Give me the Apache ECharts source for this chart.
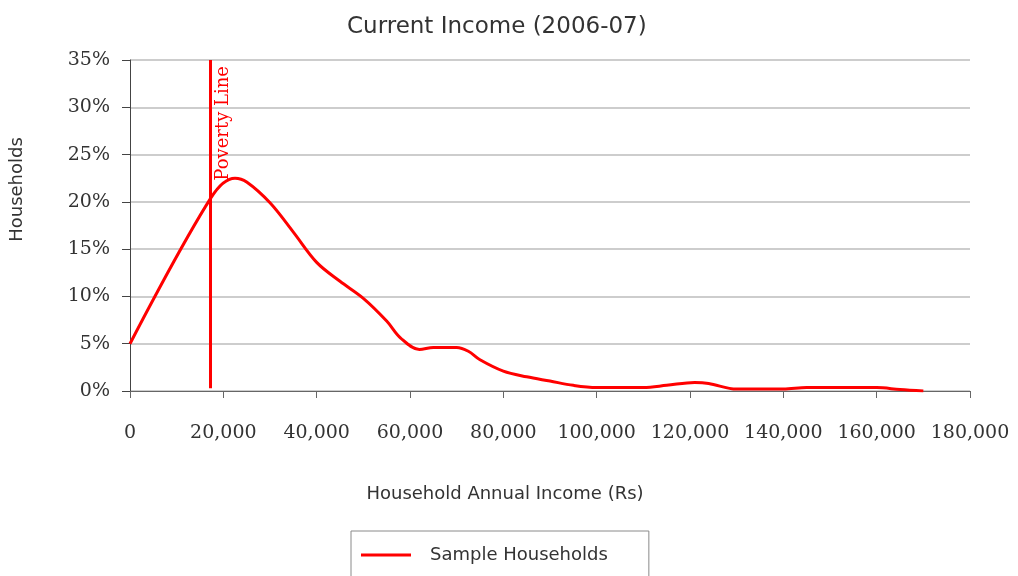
<!DOCTYPE html>
<html>
<head>
<meta charset="utf-8">
<style>html,body{margin:0;padding:0;background:#fff}#c{width:1018px;height:576px}</style>
<script src="https://cdn.jsdelivr.net/npm/echarts@6/dist/echarts.min.js"></script>
</head>
<body>
<div id="c"></div>
<script>
// Household annual income (Rs)
const incomes = [0, 17300, 22500, 25000, 30000, 35000, 40000, 45000, 50000, 55000, 58000, 62000, 65000, 70000, 72500, 75000, 80000, 85000, 90000, 95000, 100000, 110000, 115000, 121000, 124000, 130000, 140000, 145000, 160000, 165000, 170000];
// Share of sample households (%)
const shares = [5.0, 20.4, 22.5, 22.1, 19.9, 16.8, 13.6, 11.6, 9.8, 7.4, 5.6, 4.4, 4.6, 4.6, 4.2, 3.3, 2.1, 1.5, 1.05, 0.6, 0.38, 0.38, 0.6, 0.9, 0.8, 0.2, 0.2, 0.36, 0.36, 0.15, 0.0];
const povertyLine = 17300;
const seriesName = 'Sample Households';
const titleText = 'Current Income (2006-07)';
const xName = 'Household Annual Income (Rs)';
const yName = 'Households';

const chart = echarts.init(document.getElementById('c'), null, {renderer: 'canvas'});
const serif = '"DejaVu Serif", "Liberation Serif", serif';
const sans = '"DejaVu Sans", "Noto Sans", sans-serif';
chart.setOption({
  animation: false,
  backgroundColor: '#fff',
  title: {
    text: titleText, left: 342, top: 11,
    textStyle: {fontFamily: sans, fontSize: 23, fontWeight: 'normal', color: '#333'}
  },
  grid: {left: 130, right: 48, top: 60, bottom: 185, containLabel: false},
  legend: {
    data: [{name: seriesName, icon: 'rect'}], left: 351, top: 531,
    borderColor: '#8a8a8a', borderWidth: 1,
    padding: [15, 41, 30, 10],
    itemWidth: 50, itemHeight: 3,
    textStyle: {fontFamily: sans, fontSize: 18, color: '#333', padding: [0, 0, 0, 14]}
  },
  xAxis: {
    type: 'value', min: 0, max: 180000, interval: 20000,
    name: xName, nameLocation: 'middle', nameGap: 94,
    nameTextStyle: {fontFamily: sans, fontSize: 18, color: '#333', padding: [0, 90, 0, 0]},
    axisLine: {show: true, lineStyle: {color: '#666', width: 1}},
    axisTick: {show: true, length: 7, lineStyle: {color: '#666'}},
    axisLabel: {
      fontFamily: serif, fontSize: 19, color: '#333', margin: 33,
      formatter: v => v.toLocaleString('en-US')
    },
    splitLine: {show: false}
  },
  yAxis: {
    type: 'value', min: 0, max: 35, interval: 5,
    name: yName, nameLocation: 'middle', nameGap: 104, nameRotate: 90,
    nameTextStyle: {fontFamily: sans, fontSize: 18, color: '#333', padding: [0, 0, 0, 72]},
    axisLine: {show: true, lineStyle: {color: '#444', width: 1}},
    axisTick: {show: true, inside: false, length: 8, lineStyle: {color: '#444'}},
    axisLabel: {fontFamily: serif, fontSize: 19, color: '#333', margin: 20, formatter: '{value}%'},
    splitLine: {show: true, lineStyle: {color: '#bdbdbd', width: 1.5}}
  },
  series: [{
    name: seriesName, type: 'line',
    data: incomes.map((x, i) => [x, shares[i]]),
    smooth: 0.35,
    showSymbol: false, symbol: 'none',
    lineStyle: {color: '#ff0000', width: 3},
    itemStyle: {color: '#ff0000'},
    markLine: {
      silent: true, symbol: 'none',
      lineStyle: {color: '#ff0000', width: 3, type: 'solid'},
      label: {
        show: true, position: 'insideEndBottom', formatter: 'Poverty Line',
        fontFamily: serif, fontSize: 18, color: '#ff0000', distance: [6, 4]
      },
      data: [[{coord: [povertyLine, 0.3]}, {coord: [povertyLine, 35]}]]
    }
  }]
});
</script>
</body>
</html>
